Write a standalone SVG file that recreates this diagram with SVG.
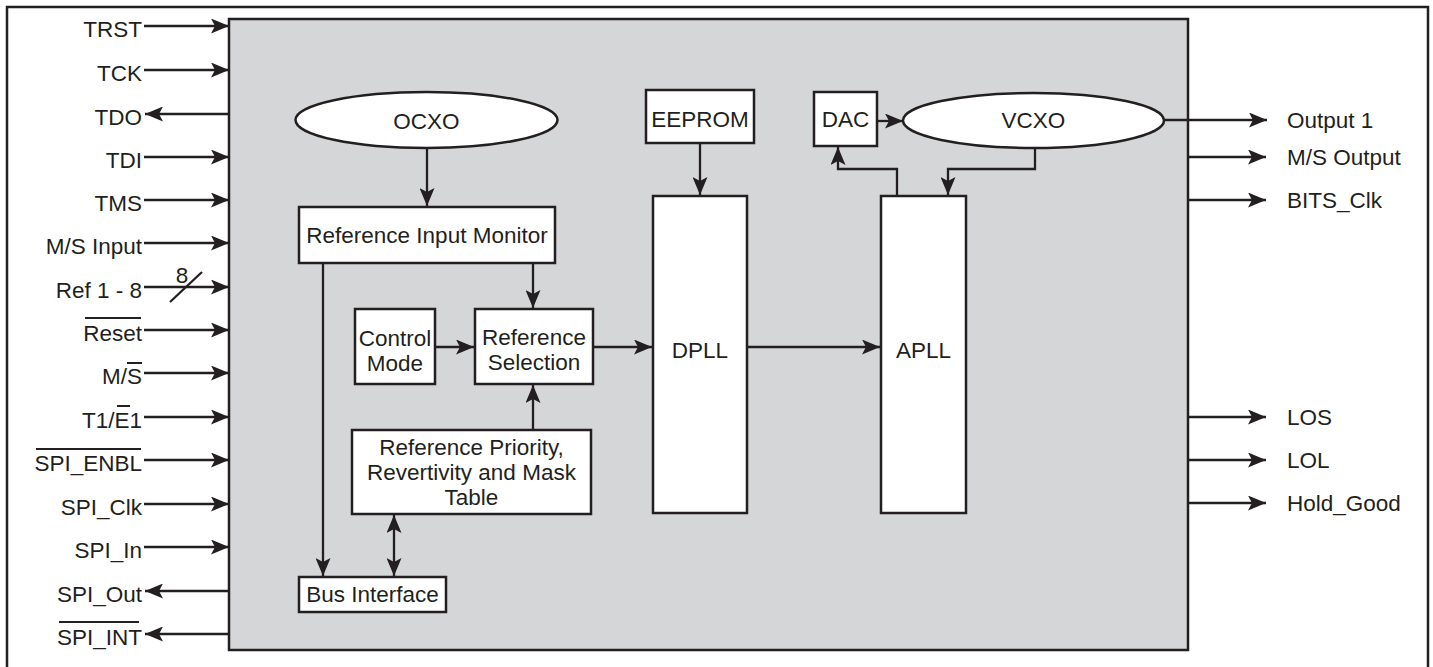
<svg xmlns="http://www.w3.org/2000/svg" width="1433" height="667" viewBox="0 0 1433 667">
<defs>
<style>
text{font-family:"Liberation Sans",Arial,sans-serif;font-size:22.5px;fill:#231f20}
.l{text-anchor:end}
.c{text-anchor:middle}
.box{fill:#fff;stroke:#231f20;stroke-width:2.5}
.w{stroke:#231f20;stroke-width:2.3;fill:none}
.a{marker-end:url(#ah)}
.ov{stroke:#231f20;stroke-width:2}
</style>
<marker id="ah" markerUnits="userSpaceOnUse" markerWidth="19" markerHeight="15" refX="18" refY="7.5" orient="auto-start-reverse">
<path d="M0,0 L18,7.5 L0,15 L4,7.5 z" fill="#231f20"/>
</marker>
</defs>
<rect x="0" y="0" width="1433" height="667" fill="#fff"/>
<rect x="7" y="7" width="1421" height="690" fill="#fff" stroke="#231f20" stroke-width="2.5"/>
<rect id="chip" x="229" y="19" width="959" height="631" fill="#d5d6d8" stroke="#231f20" stroke-width="2.5"/>

<g id="pins-left">
<text class="l" x="142" y="37">TRST</text>
<text class="l" x="142" y="81">TCK</text>
<text class="l" x="142" y="125">TDO</text>
<text class="l" x="142" y="168">TDI</text>
<text class="l" x="142" y="211">TMS</text>
<text class="l" x="142" y="254">M/S Input</text>
<text class="l" x="142" y="298">Ref 1 - 8</text>
<text class="c" x="182" y="283">8</text>
<text class="l" x="142" y="341">Reset</text>
<line class="ov" x1="85" y1="318" x2="141" y2="318"/>
<text class="l" x="142" y="384">M/S</text>
<line class="ov" x1="127" y1="363" x2="142" y2="363"/>
<text class="l" x="142" y="428">T1/E1</text>
<line class="ov" x1="117" y1="406" x2="130" y2="406"/>
<text class="l" x="142" y="471">SPI_ENBL</text>
<line class="ov" x1="36" y1="449" x2="141" y2="449"/>
<text class="l" x="142" y="515">SPI_Clk</text>
<text class="l" x="142" y="558">SPI_In</text>
<text class="l" x="142" y="602">SPI_Out</text>
<text class="l" x="142" y="645">SPI_INT</text>
<line class="ov" x1="59" y1="622" x2="139" y2="622"/>
</g>

<g id="pins-right">
<text x="1287" y="128">Output 1</text>
<text x="1287" y="165">M/S Output</text>
<text x="1287" y="208">BITS_Clk</text>
<text x="1287" y="425">LOS</text>
<text x="1287" y="468">LOL</text>
<text x="1287" y="511">Hold_Good</text>
</g>

<g id="ocxo"><ellipse cx="426.5" cy="120" rx="131" ry="28" class="box"/><text class="c" x="426.5" y="129">OCXO</text></g>
<g id="rim"><rect x="299" y="207" width="256" height="56" class="box"/><text class="c" x="427" y="243">Reference Input Monitor</text></g>
<g id="control-mode"><rect x="355" y="309" width="80" height="75" class="box"/><text class="c" x="395" y="346">Control</text><text class="c" x="395" y="371">Mode</text></g>
<g id="ref-sel"><rect x="475" y="309" width="118" height="75" class="box"/><text class="c" x="534" y="345">Reference</text><text class="c" x="534" y="370">Selection</text></g>
<g id="ref-pri"><rect x="352" y="430" width="239" height="84" class="box"/><text class="c" x="471.5" y="455">Reference Priority,</text><text class="c" x="471.5" y="480">Revertivity and Mask</text><text class="c" x="471.5" y="505">Table</text></g>
<g id="bus"><rect x="299" y="577" width="147" height="35" class="box"/><text class="c" x="372.5" y="602">Bus Interface</text></g>
<g id="eeprom"><rect x="646" y="90" width="108" height="53" class="box"/><text class="c" x="700" y="127">EEPROM</text></g>
<g id="dpll"><rect x="653" y="196" width="94" height="317" class="box"/><text class="c" x="700" y="358">DPLL</text></g>
<g id="dac"><rect x="814" y="92" width="63" height="54" class="box"/><text class="c" x="845.5" y="127">DAC</text></g>
<g id="vcxo"><ellipse cx="1033.5" cy="120.5" rx="130.5" ry="27.5" class="box"/><text class="c" x="1033.5" y="128">VCXO</text></g>
<g id="apll"><rect x="881" y="196" width="85" height="317" class="box"/><text class="c" x="923.5" y="358">APLL</text></g>

<g id="connectors">
<path class="w a" d="M144,26 H229"/>
<path class="w a" d="M144,70 H229"/>
<path class="w a" d="M229,114 H145"/>
<path class="w a" d="M144,157 H229"/>
<path class="w a" d="M144,200 H229"/>
<path class="w a" d="M144,243 H229"/>
<path class="w a" d="M144,287 H229"/>
<path class="w" d="M170,302 L202,272"/>
<path class="w a" d="M144,330 H229"/>
<path class="w a" d="M144,373 H229"/>
<path class="w a" d="M144,417 H229"/>
<path class="w a" d="M144,460 H229"/>
<path class="w a" d="M144,504 H229"/>
<path class="w a" d="M144,547 H229"/>
<path class="w a" d="M229,591 H145"/>
<path class="w a" d="M229,634 H145"/>

<path class="w a" d="M1164,120 H1267"/>
<path class="w a" d="M1188,157 H1266"/>
<path class="w a" d="M1188,200 H1266"/>
<path class="w a" d="M1188,417 H1266"/>
<path class="w a" d="M1188,460 H1266"/>
<path class="w a" d="M1188,503 H1266"/>

<path class="w a" d="M427,148 V206"/>
<path class="w a" d="M533,263 V308"/>
<path class="w a" d="M323,263 V576"/>
<path class="w a" d="M435,347 H474"/>
<path class="w a" d="M593,347 H652"/>
<path class="w a" d="M533,430 V385"/>
<path class="w a" d="M394,515 V576" style="marker-start:url(#ah)"/>
<path class="w a" d="M700,143 V195"/>
<path class="w a" d="M747,347 H880"/>
<path class="w a" d="M877,121 H903"/>
<path class="w a" d="M897,196 V169 H838 V147"/>
<path class="w a" d="M1035,148 V169 H948 V195"/>
</g>
</svg>
